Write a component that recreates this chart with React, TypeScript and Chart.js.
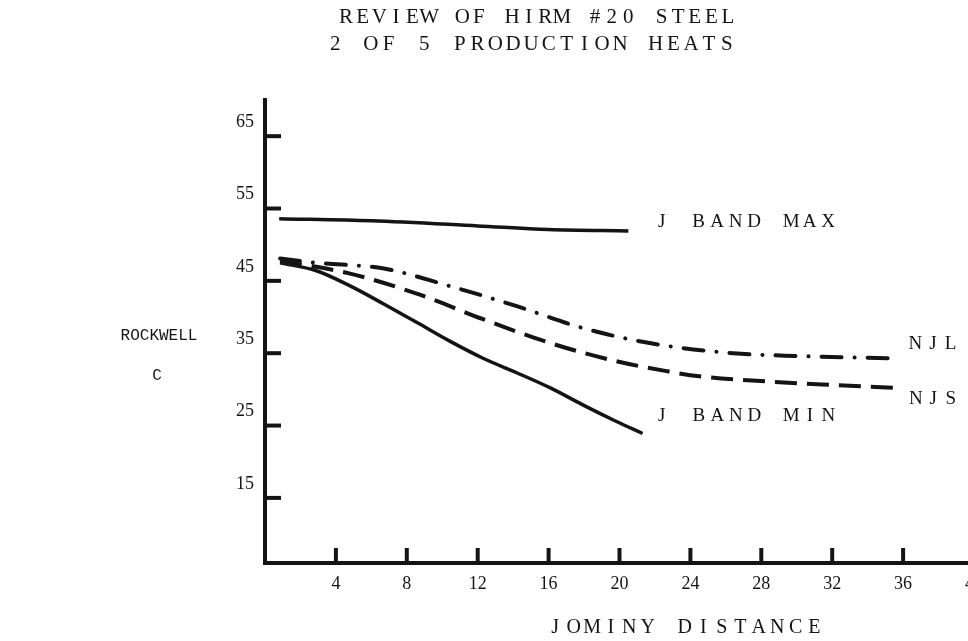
import React, { useEffect, useRef } from "react";
import { Chart, registerables } from "chart.js";

Chart.register(...registerables);

// Chart text
const TITLE_LINES = ["REVIEW OF HIRM #20 STEEL", "2 OF 5 PRODUCTION HEATS"];
const Y_TITLE_LINES = ["ROCKWELL", "C"];
const X_TITLE = "JOMINY DISTANCE";

// Axis ticks
const Y_TICKS = [15, 25, 35, 45, 55, 65];
const X_TICKS = [4, 8, 12, 16, 20, 24, 28, 32, 36, 40];

// Hardenability band limits
const BAND_MAX_X = [0.8, 6, 12, 16, 20.5];
const BAND_MAX_Y = [53.6, 53.3, 52.6, 52.1, 51.9];
const BAND_MIN_X = [0.85, 2.9, 4.8, 6.7, 8.6, 10.4, 12.3, 14.2, 16.1, 17.9, 19.8, 21.3];
const BAND_MIN_Y = [47.5, 46.4, 44.3, 41.8, 39.2, 36.7, 34.3, 32.3, 30.2, 27.9, 25.6, 23.9];

// Production heats
const NJL_X = [0.85, 2.9, 6.7, 10.4, 14.2, 17.9, 21.7, 26.4, 30.2, 35.3];
const NJL_Y = [48.1, 47.5, 46.7, 44.3, 41.5, 38.5, 36.4, 35.0, 34.6, 34.3];
const NJS_X = [0.85, 4.8, 8.6, 12.3, 16.1, 19.8, 22.7, 24.5, 28.3, 32.1, 35.6];
const NJS_Y = [47.8, 46.0, 43.2, 39.7, 36.4, 33.9, 32.5, 31.8, 31.1, 30.6, 30.2];

const SERIES_LABELS = ["J BAND MAX", "J BAND MIN", "NJL", "NJS"];

const INK = "#141414";
const SERIF = '"Liberation Serif", "DejaVu Serif", serif';
const MONO = '"Liberation Mono", "DejaVu Sans Mono", monospace';

const toPoints = (xs: number[], ys: number[]) => xs.map((x, i) => ({ x, y: ys[i] }));

// Draws text with a fixed advance per character, like a typewriter.
function typeText(
  ctx: CanvasRenderingContext2D,
  text: string,
  x: number,
  y: number,
  advance: number,
  align: "left" | "center" = "left"
) {
  const total = text.length * advance;
  let start = align === "center" ? x - total / 2 : x;
  ctx.textAlign = "center";
  for (const ch of text) {
    ctx.fillText(ch, start + advance / 2, y);
    start += advance;
  }
}

const axisTicksPlugin = {
  id: "axisTicks",
  afterDatasetsDraw(chart: any) {
    const { ctx, chartArea, scales } = chart;
    ctx.save();
    ctx.strokeStyle = INK;
    ctx.lineWidth = 4;
    ctx.lineCap = "butt";
    for (const v of Y_TICKS) {
      const y = scales.y.getPixelForValue(v);
      ctx.beginPath();
      ctx.moveTo(chartArea.left, y);
      ctx.lineTo(chartArea.left + 16, y);
      ctx.stroke();
    }
    for (const v of X_TICKS) {
      const x = scales.x.getPixelForValue(v);
      ctx.beginPath();
      ctx.moveTo(x, chartArea.bottom);
      ctx.lineTo(x, chartArea.bottom - 15);
      ctx.stroke();
    }
    ctx.restore();
  },
};

const annotationPlugin = {
  id: "annotations",
  afterDraw(chart: any) {
    const { ctx, scales } = chart;
    const px = (v: number) => scales.x.getPixelForValue(v);
    const py = (v: number) => scales.y.getPixelForValue(v);
    ctx.save();
    ctx.fillStyle = INK;
    ctx.textBaseline = "middle";

    // Title
    ctx.font = `21px ${SERIF}`;
    typeText(ctx, TITLE_LINES[0], 537, 17, 16.6, "center");
    typeText(ctx, TITLE_LINES[1], 531, 44, 17.8, "center");

    // Vertical axis caption
    ctx.font = `16px ${MONO}`;
    ctx.textAlign = "center";
    ctx.fillText(Y_TITLE_LINES[0], 159, 336);
    ctx.fillText(Y_TITLE_LINES[1], 157, 376);

    // Horizontal axis caption
    ctx.font = `20px ${SERIF}`;
    typeText(ctx, X_TITLE, 546, 628, 18.5, "left");

    // Curve labels next to the end of each curve
    ctx.font = `19px ${SERIF}`;
    const last = (a: number[]) => a[a.length - 1];
    typeText(ctx, SERIES_LABELS[0], px(last(BAND_MAX_X)) + 24, py(last(BAND_MAX_Y)) - 9, 18.5);
    typeText(ctx, SERIES_LABELS[1], px(last(BAND_MIN_X)) + 10, py(last(BAND_MIN_Y)) - 17, 18.5);
    typeText(ctx, SERIES_LABELS[2], px(last(NJL_X)) + 16, py(last(NJL_Y)) - 14, 17.5);
    typeText(ctx, SERIES_LABELS[3], px(last(NJS_X)) + 11, py(last(NJS_Y)) + 11, 17.5);
    ctx.restore();
  },
};

export default function App() {
  const canvasRef = useRef<HTMLCanvasElement | null>(null);

  useEffect(() => {
    const canvas = canvasRef.current;
    if (!canvas) return;

    const tickFont = { family: SERIF, size: 18 };

    const chart = new Chart(canvas, {
      type: "line",
      data: {
        datasets: [
          {
            label: SERIES_LABELS[0],
            data: toPoints(BAND_MAX_X, BAND_MAX_Y),
            borderColor: INK,
            borderWidth: 3.5,
            pointRadius: 0,
            cubicInterpolationMode: "monotone",
          },
          {
            label: SERIES_LABELS[1],
            data: toPoints(BAND_MIN_X, BAND_MIN_Y),
            borderColor: INK,
            borderWidth: 3.5,
            pointRadius: 0,
            cubicInterpolationMode: "monotone",
          },
          {
            label: SERIES_LABELS[2],
            data: toPoints(NJL_X, NJL_Y),
            borderColor: INK,
            borderWidth: 4,
            borderDash: [20, 13, 0.1, 13],
            borderCapStyle: "round",
            pointRadius: 0,
            cubicInterpolationMode: "monotone",
          },
          {
            label: SERIES_LABELS[3],
            data: toPoints(NJS_X, NJS_Y),
            borderColor: INK,
            borderWidth: 4,
            borderDash: [22, 10],
            pointRadius: 0,
            cubicInterpolationMode: "monotone",
          },
        ],
      },
      options: {
        animation: false,
        responsive: false,
        devicePixelRatio: 1,
        layout: { padding: { left: 0, top: 100, right: 26, bottom: 0 } },
        plugins: {
          legend: { display: false },
          title: { display: false },
          tooltip: { enabled: false },
        },
        scales: {
          x: {
            type: "linear",
            min: 0,
            max: 40,
            grid: { display: false, drawTicks: false },
            border: { display: true, width: 4, color: INK },
            afterBuildTicks: (scale: any) => {
              scale.ticks = X_TICKS.map((value) => ({ value }));
            },
            afterFit: (scale: any) => {
              scale.height = 78;
            },
            ticks: {
              font: tickFont,
              color: INK,
              padding: 10,
              maxRotation: 0,
              autoSkip: false,
            },
          },
          y: {
            type: "linear",
            min: 6,
            max: 70,
            grid: { display: false, drawTicks: false },
            border: { display: true, width: 4, color: INK },
            afterBuildTicks: (scale: any) => {
              scale.ticks = Y_TICKS.map((value) => ({ value }));
            },
            afterFit: (scale: any) => {
              scale.width = 265;
            },
            ticks: {
              font: tickFont,
              color: INK,
              padding: 11,
              labelOffset: -14,
            },
          },
        },
      },
      plugins: [axisTicksPlugin, annotationPlugin],
    });

    return () => chart.destroy();
  }, []);

  return (
    <div
      style={{
        position: "fixed",
        left: 0,
        top: 0,
        width: 968,
        height: 641,
        overflow: "hidden",
        background: "#fff",
      }}
    >
      <canvas ref={canvasRef} width={1000} height={641} style={{ display: "block" }} />
    </div>
  );
}
